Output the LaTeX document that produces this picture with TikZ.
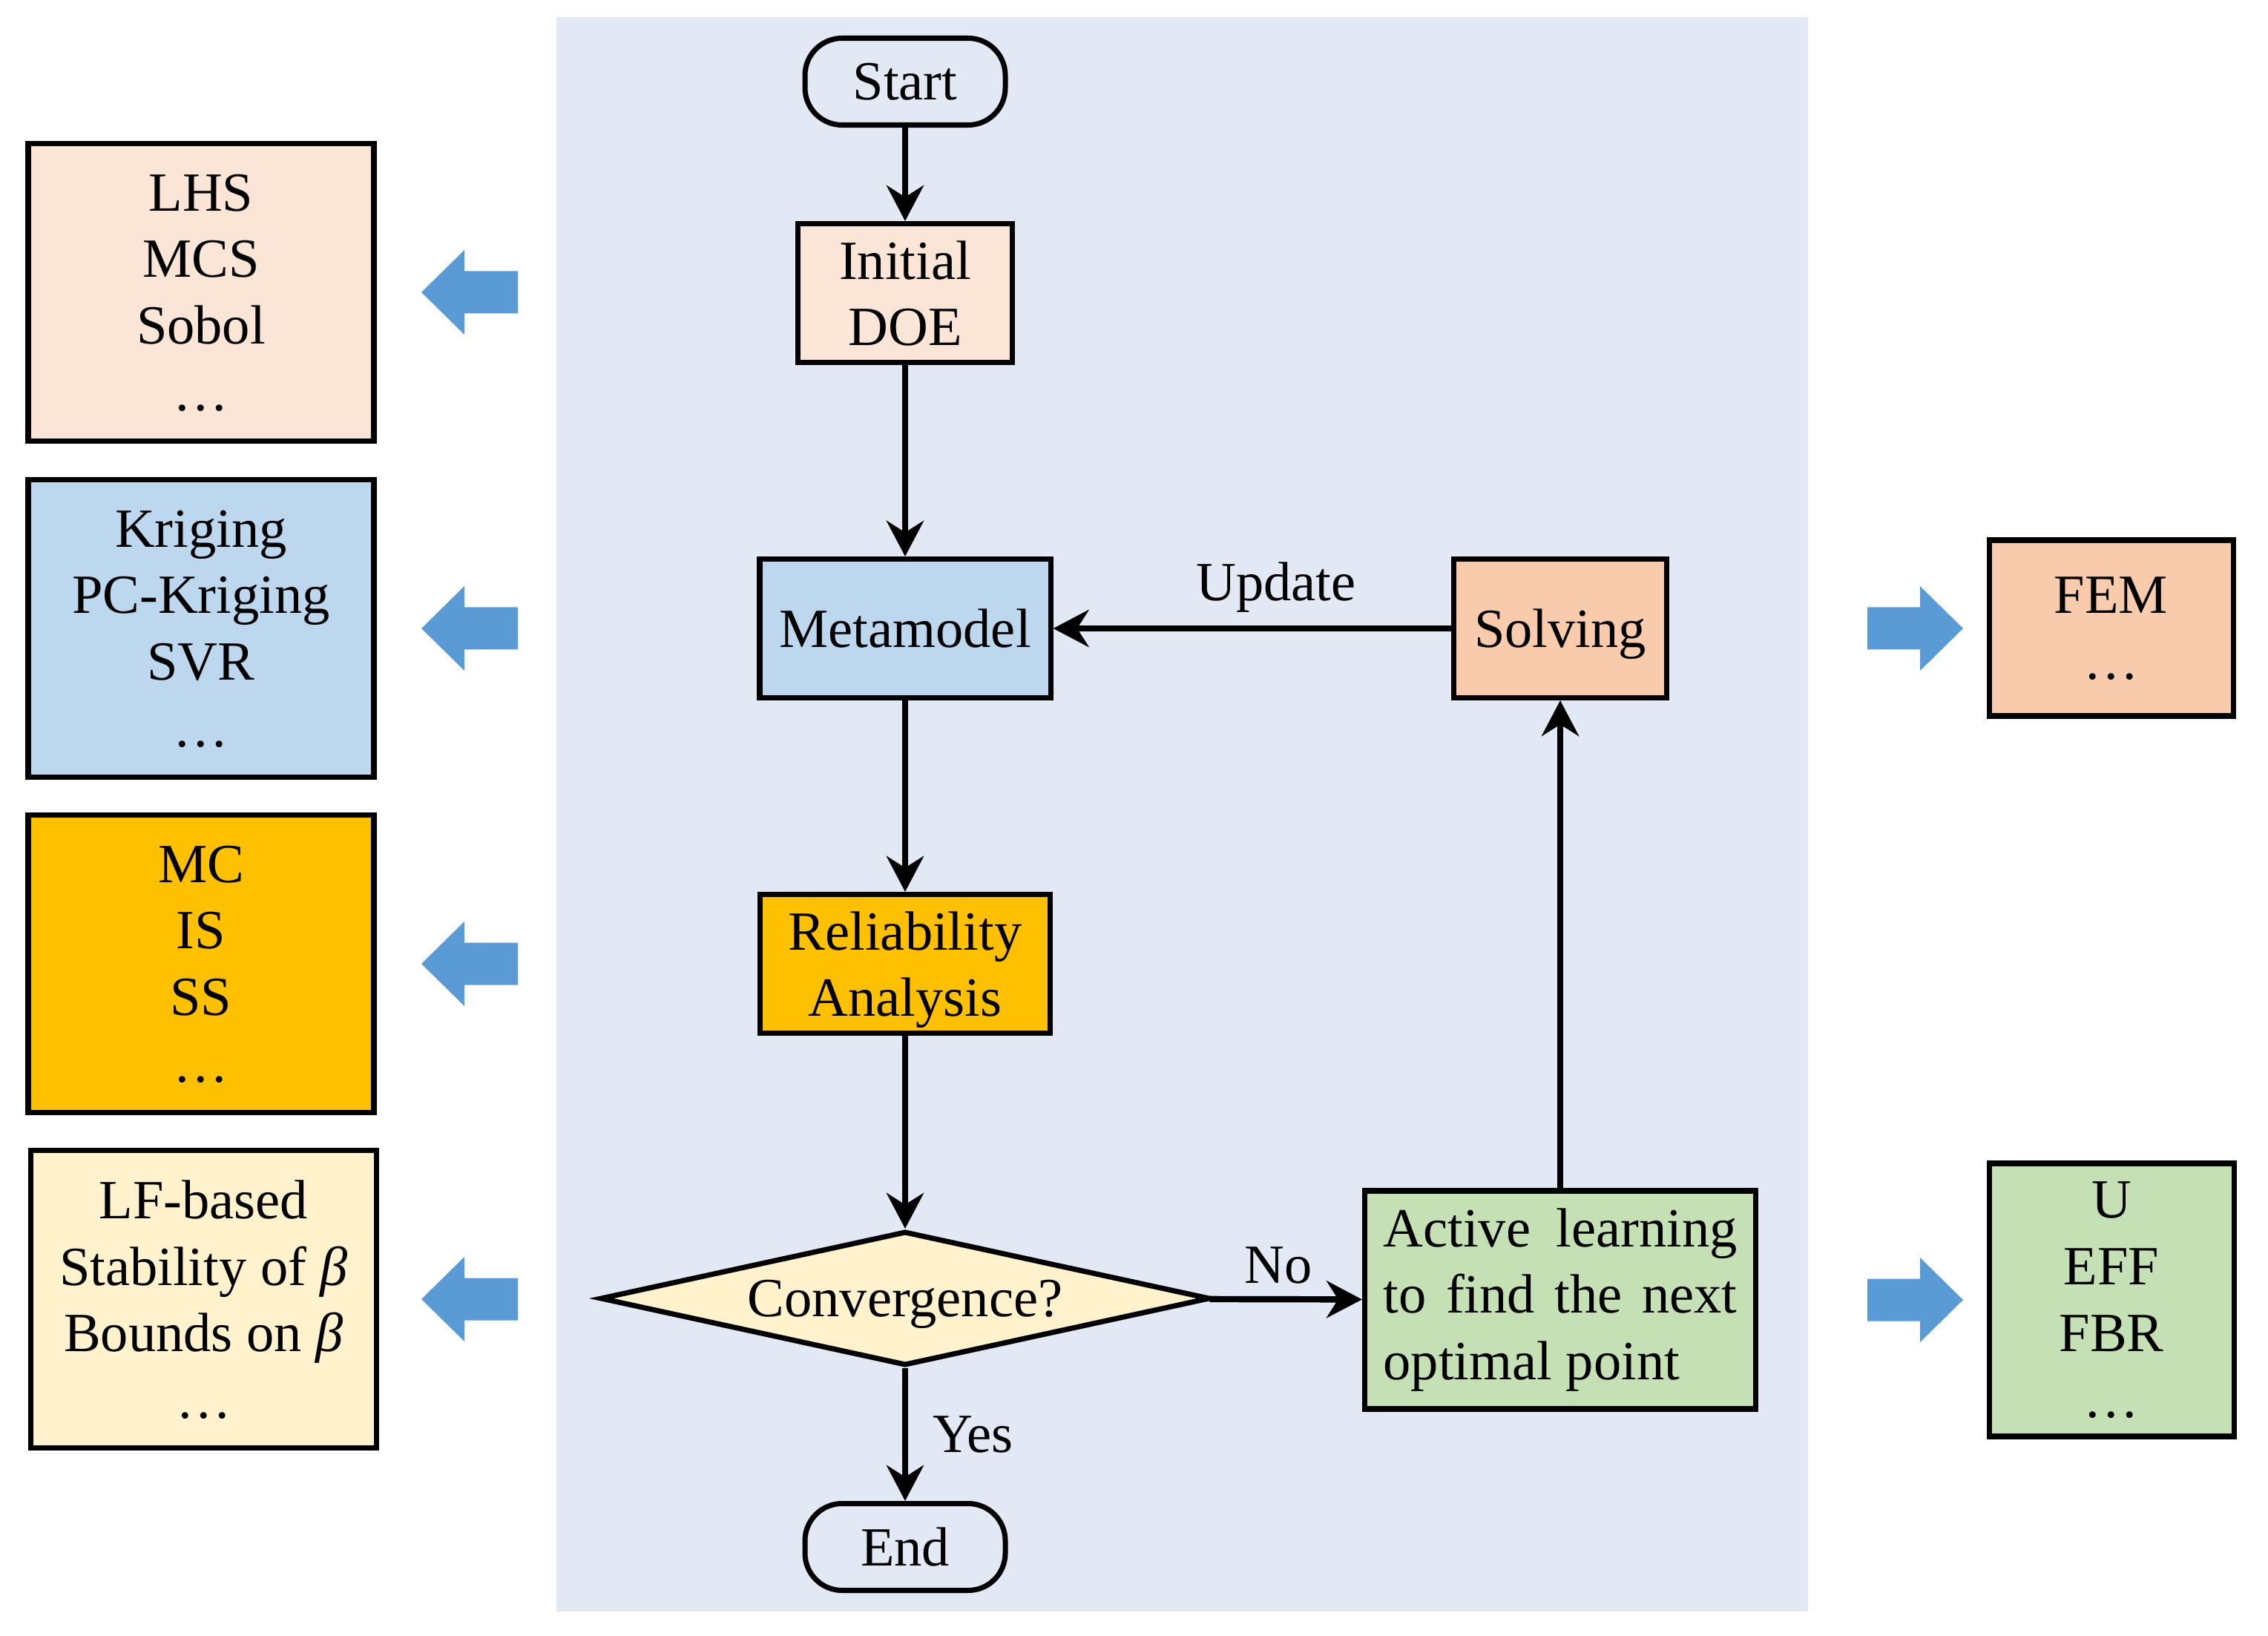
\documentclass[tikz,border=0pt]{standalone}
\usepackage{fontspec}
\setmainfont{Liberation Serif}
\usetikzlibrary{shapes.geometric,arrows.meta}
\tolerance=10000
\hyphenpenalty=10000

\definecolor{panelbg}{HTML}{E2E9F5}
\definecolor{doefill}{HTML}{FBE5D6}
\definecolor{metafill}{HTML}{BDD7EE}
\definecolor{relfill}{HTML}{FFC000}
\definecolor{convfill}{HTML}{FFF2CC}
\definecolor{solvefill}{HTML}{F8CBAD}
\definecolor{alfill}{HTML}{C5E0B4}
\definecolor{arrowblue}{HTML}{5B9BD5}

\tikzset{
  base/.style={draw, line width=2pt, font=\fontsize{21.2}{25.5}\selectfont,
    inner sep=0pt, align=center},
  box/.style={base, text depth=0pt},
  proc/.style={box, minimum height=1.87cm},
  term/.style={box, rounded corners=0.5cm, minimum width=2.70cm, minimum height=1.17cm},
  decision/.style={box, diamond, aspect=4.4, minimum width=8.22cm, minimum height=1.81cm},
  method/.style={box, minimum width=4.66cm, minimum height=4.01cm},
  flow/.style={-{Stealth[length=4.8mm,width=5mm]}, line width=2.4pt},
  lbl/.style={font=\fontsize{21.2}{25.5}\selectfont, inner sep=0.17cm},
}

\begin{document}
\begin{tikzpicture}
    \useasboundingbox (0,0) rectangle (30.57,22.04);
    \fill[panelbg] (7.50,0.32) rectangle (24.37,21.81);

    % main loop
    \node[term] (start) at (12.20,20.94) {Start};
    \node[proc, fill=doefill, minimum width=2.89cm] (doe) at (12.20,18.09) {Initial\\DOE};
    \node[proc, fill=metafill, minimum width=3.92cm] (meta) at (12.20,13.57) {Metamodel};
    \node[proc, fill=solvefill, minimum width=2.87cm] (solve) at (21.03,13.57) {Solving};
    \node[proc, fill=relfill, minimum width=3.91cm] (rel) at (12.20,9.05) {Reliability\\Analysis};
    \node[decision, fill=convfill] (conv) at (12.20,4.54) {Convergence?};
    \node[base, fill=alfill, minimum width=5.26cm, minimum height=2.94cm, text width=4.77cm,
        align=justify, inner xsep=0.25cm] (al) at (21.03,4.52) {Active learning to find the next optimal point};
    \node[term] (end) at (12.20,1.19) {End};

    \draw[flow] (start) -- (doe);
    \draw[flow] (doe) -- (meta);
    \draw[flow] (meta) -- (rel);
    \draw[flow] (rel) -- (conv);
    \draw[flow] (conv) -- node[lbl, right, xshift=0.16cm] {Yes} (end);
    \draw[flow] (conv) -- node[lbl, above, pos=0.45] {No} (al);
    \draw[flow] (al) -- (solve);
    \draw[flow] (solve) -- node[lbl, above, pos=0.44] {Update} (meta);

    % methods
    \node[method, fill=doefill] (samp) at (2.71,18.10) {LHS\\MCS\\Sobol\\…};
    \node[method, fill=metafill] (surr) at (2.71,13.57) {Kriging\\PC-Kriging\\SVR\\…};
    \node[method, fill=relfill] (relm) at (2.71,9.05) {MC\\IS\\SS\\…};
    \node[method, fill=convfill] (stop) at (2.745,4.53) {LF-based\\Stability of {\itshape β}\\Bounds on {\itshape β}\\…};
    \node[box, fill=solvefill, minimum width=3.29cm, minimum height=2.37cm] (fem) at (28.455,13.575) {FEM\\…};
    \node[box, fill=alfill, minimum width=3.30cm, minimum height=3.68cm] (lfun) at (28.46,4.52) {U\\EFF\\FBR\\…};

    \foreach \y in {18.10,13.57,9.05,4.53}
        \fill[arrowblue] (6.98,{\y+0.285}) -- (6.26,{\y+0.285}) -- (6.26,{\y+0.57}) -- (5.68,\y)
            -- (6.26,{\y-0.57}) -- (6.26,{\y-0.285}) -- (6.98,{\y-0.285}) -- cycle;
    \foreach \y in {13.57,4.52}
        \fill[arrowblue] (25.17,{\y+0.285}) -- (25.88,{\y+0.285}) -- (25.88,{\y+0.57}) -- (26.46,\y)
            -- (25.88,{\y-0.57}) -- (25.88,{\y-0.285}) -- (25.17,{\y-0.285}) -- cycle;
\end{tikzpicture}
\end{document}
